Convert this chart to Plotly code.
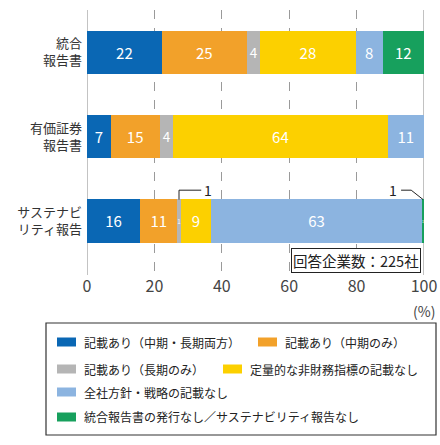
import plotly.graph_objects as go

# report types (top to bottom)
categories = ["統合<br>報告書", "有価証券<br>報告書", "サステナビ<br>リティ報告"]

# share of companies (%), one list per answer
series_names = [
    "記載あり（中期・長期両方）",
    "記載あり（中期のみ）",
    "記載あり（長期のみ）",
    "定量的な非財務指標の記載なし",
    "全社方針・戦略の記載なし",
    "統合報告書の発行なし／サステナビリティ報告なし",
]
both_terms = [22.2, 7.0, 15.8]
mid_only = [25.2, 14.6, 11.0]
long_only = [4.0, 4.0, 1.0]
no_metric = [28.3, 63.6, 9.0]
no_policy = [8.0, 10.8, 62.6]
no_report = [12.3, 0.0, 0.6]

x_ticks = [0, 20, 40, 60, 80, 100]
note = "回答企業数：225社"

colors = ["#0a67b4", "#f2a12a", "#b5b5b5", "#fcd000", "#8cb4e0", "#17a05d"]
all_series = [both_terms, mid_only, long_only, no_metric, no_policy, no_report]

font = "Noto Sans CJK JP"
W, H = 440, 445
L, R, T, B = 87, 16, 10, 170
ypos = list(range(len(categories) - 1, -1, -1))
bar_w = 0.51


def px_x(px):
    return (px - L) / (W - L - R)


def px_y(py):
    return (H - B - py) / (H - B - T)


fig = go.Figure()
for name, vals, col in zip(series_names, all_series, colors):
    fig.add_trace(go.Bar(
        y=ypos, x=vals, name=name, orientation="h",
        marker=dict(color=col, line=dict(width=0)),
        width=bar_w,
        texttemplate="%{x:.0f}", textposition="inside",
        insidetextanchor="middle",
        textfont=dict(color="white", size=15, family=font),
        hoverinfo="skip", showlegend=False,
    ))

# gridlines: dashed inside, solid at 0 and 100
for v in [0, 100]:
    fig.add_shape(type="line", x0=v, x1=v, y0=0, y1=1, yref="paper",
                  line=dict(color="#9a9a9a", width=1.2), layer="below")

# leader-line labels for the thin segments in the last row
row = len(categories) - 1
yb = ypos[row] + bar_w / 2
cum = [sum(s[row] for s in all_series[:i]) for i in range(len(all_series))]

g = 2  # long_only
gx = cum[g] + long_only[row] / 2
fig.add_shape(type="path",
              path=f"M {gx},{yb} L {gx},{yb + 0.11} L {gx + 6.6},{yb + 0.11}",
              line=dict(color="#222", width=1))
fig.add_annotation(x=gx + 6.6, y=yb + 0.11, text=f"{long_only[row]:.0f}",
                   showarrow=False, xanchor="left", xshift=1,
                   font=dict(size=14, color="#222", family=font))

k = 5  # no_report
kx = cum[k] + no_report[row] / 2
fig.add_shape(type="path",
              path=f"M {kx},{yb} L {kx - 3.5},{yb + 0.11} L {kx - 6.5},{yb + 0.11}",
              line=dict(color="#222", width=1))
fig.add_annotation(x=kx - 6.5, y=yb + 0.11, text=f"{no_report[row]:.0f}",
                   showarrow=False, xanchor="right", xshift=-2,
                   font=dict(size=14, color="#222", family=font))

fig.add_annotation(x=99.2, y=ypos[row] - 0.47, text=note, showarrow=False,
                   xanchor="right", yanchor="middle",
                   bordercolor="#222", borderwidth=1, borderpad=1,
                   bgcolor="white",
                   font=dict(size=14.5, color="#222", family=font))

fig.add_annotation(x=1.0, y=0, xref="paper", yref="paper", text="(%)",
                   showarrow=False, xanchor="center", yanchor="top",
                   yshift=-24, font=dict(size=14, color="#444", family=font))

# hand-drawn legend box, laid out like the original
fig.add_shape(type="rect", xref="paper", yref="paper",
              x0=px_x(46), x1=px_x(436), y0=px_y(323), y1=px_y(435),
              line=dict(color="#333", width=1.2))
legend_spots = [(57, 342), (258, 342), (57, 369), (223, 369), (57, 392), (57, 417)]
for name, col, (lx, ly) in zip(series_names, colors, legend_spots):
    fig.add_shape(type="rect", xref="paper", yref="paper",
                  x0=px_x(lx), x1=px_x(lx + 19),
                  y0=px_y(ly - 4.5), y1=px_y(ly + 4.5),
                  fillcolor=col, line=dict(width=0))
    fig.add_annotation(x=px_x(lx + 25), y=px_y(ly), xref="paper", yref="paper",
                       text=name, showarrow=False, xanchor="left",
                       yanchor="middle",
                       font=dict(size=12, color="#222", family=font))

fig.update_layout(
    width=W, height=H,
    barmode="stack",
    plot_bgcolor="white", paper_bgcolor="white",
    margin=dict(l=L, r=R, t=T, b=B),
    font=dict(family=font, color="#333"),
    xaxis=dict(range=[0, 100], tickvals=x_ticks, showgrid=True,
               gridcolor="#9a9a9a", griddash="dash", gridwidth=1,
               zeroline=False, showline=False, ticks="", automargin=False,
               tickfont=dict(size=16, color="#444"), fixedrange=True),
    yaxis=dict(range=[-0.64, 2.5], tickvals=ypos, ticktext=categories,
               showgrid=False, zeroline=False, ticks="", automargin=False,
               tickfont=dict(size=13, color="#333"), ticklabelstandoff=4),
    showlegend=False,
)

# the page's default body margin would push the figure 8px off
fig.write_html("out.html", config={"displayModeBar": False},
               post_script="document.body.style.margin='0';")
